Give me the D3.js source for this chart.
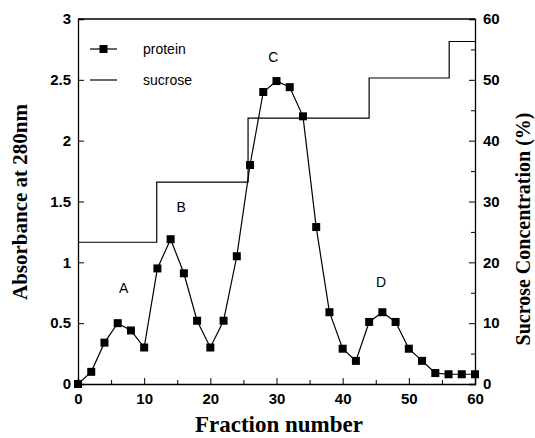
<!DOCTYPE html>
<html>
<head>
<meta charset="utf-8">
<script src="https://cdn.jsdelivr.net/npm/d3@7"></script>
<style>
  body { margin: 0; background: #fff; }
</style>
</head>
<body>
<svg id="chart" width="535" height="438"></svg>
<script>
// fraction numbers and absorbance at 280nm
const fractions = [0, 2, 4, 6, 8, 10, 12, 14, 16, 18, 20, 22, 24, 26, 28, 30, 32, 34, 36, 38, 40, 42, 44, 46, 48, 50, 52, 54, 56, 58, 60];
const protein = [0, 0.1, 0.34, 0.5, 0.44, 0.3, 0.95, 1.19, 0.91, 0.52, 0.3, 0.52, 1.05, 1.8, 2.4, 2.49, 2.44, 2.2, 1.29, 0.59, 0.29, 0.19, 0.51, 0.59, 0.51, 0.29, 0.19, 0.09, 0.08, 0.08, 0.08];

// sucrose gradient steps (start fraction of each step, and %)
const sucroseStarts = [0, 11.9, 25.7, 44, 56.1];
const sucroseLevels = [23.3, 33.2, 43.7, 50.3, 56.3];

// peak labels
const peakNames = ['A', 'B', 'C', 'D'];
const peakX = [6.9, 15.6, 29.5, 45.8];
const peakY = [0.79, 1.45, 2.69, 0.84];

const leftTicks = [0, 0.5, 1, 1.5, 2, 2.5, 3];
const rightTicks = [0, 10, 20, 30, 40, 50, 60];
const xTicks = [0, 10, 20, 30, 40, 50, 60];

const sans = '"Liberation Sans", Arial, sans-serif';
const serif = '"Liberation Serif", "Times New Roman", serif';

const svg = d3.select('#chart');
const margin = { top: 19, right: 60, bottom: 54, left: 78 };
const width = +svg.attr('width') - margin.left - margin.right;
const height = +svg.attr('height') - margin.top - margin.bottom;
const g = svg.append('g').attr('transform', `translate(${margin.left},${margin.top})`);

const x = d3.scaleLinear().domain([0, 60]).range([0, width]);
const y = d3.scaleLinear().domain([0, 3]).range([height, 0]);
const y2 = d3.scaleLinear().domain([0, 60]).range([height, 0]);

// minor ticks
g.append('g')
  .attr('transform', `translate(0,${height})`)
  .call(d3.axisBottom(x).tickValues([5, 15, 25, 35, 45, 55]).tickSize(-4).tickFormat(''))
  .select('.domain').remove();
g.append('g')
  .attr('transform', `translate(${width},0)`)
  .call(d3.axisRight(y2).tickValues([5, 15, 25, 35, 45, 55]).tickSize(-4).tickFormat(''))
  .select('.domain').remove();

// major axes
g.append('g')
  .attr('class', 'axis')
  .attr('transform', `translate(0,${height})`)
  .call(d3.axisBottom(x).tickValues(xTicks).tickSize(-6).tickPadding(9).tickFormat(d3.format('d')));

g.append('g')
  .attr('class', 'axis')
  .call(d3.axisLeft(y).tickValues(leftTicks).tickSize(-6).tickPadding(7).tickFormat(d => d));

g.append('g')
  .attr('class', 'axis')
  .attr('transform', `translate(${width},0)`)
  .call(d3.axisRight(y2).tickValues(rightTicks).tickSize(-6).tickPadding(8).tickFormat(d3.format('d')));

g.selectAll('.axis')
  .attr('font-family', sans)
  .attr('font-size', 15)
  .attr('font-weight', 'bold');
g.selectAll('.domain').attr('stroke', '#000').attr('stroke-width', 1.3);
g.selectAll('.tick line').attr('stroke', '#000');

// top frame line
g.append('line')
  .attr('x1', 0).attr('x2', width)
  .attr('y1', 0).attr('y2', 0)
  .attr('stroke', '#000')
  .attr('stroke-width', 1.3);

// sucrose step line
const stepData = sucroseStarts.map((s, i) => ({ x: s, v: sucroseLevels[i] }));
stepData.push({ x: 60, v: sucroseLevels[sucroseLevels.length - 1] });
g.append('path')
  .datum(stepData)
  .attr('fill', 'none')
  .attr('stroke', '#000')
  .attr('stroke-width', 1.2)
  .attr('d', d3.line().curve(d3.curveStepAfter).x(d => x(d.x)).y(d => y2(d.v)));

// protein line and markers
const data = fractions.map((f, i) => ({ f, v: protein[i] }));
g.append('path')
  .datum(data)
  .attr('fill', 'none')
  .attr('stroke', '#000')
  .attr('stroke-width', 1.2)
  .attr('d', d3.line().x(d => x(d.f)).y(d => y(d.v)));

g.selectAll('.pt')
  .data(data)
  .enter().append('rect')
  .attr('class', 'pt')
  .attr('x', d => x(d.f) - 4)
  .attr('y', d => y(d.v) - 4)
  .attr('width', 8)
  .attr('height', 8)
  .attr('fill', '#000');

// peak labels
g.selectAll('.peak')
  .data(peakNames)
  .enter().append('text')
  .attr('class', 'peak')
  .attr('x', (d, i) => x(peakX[i]))
  .attr('y', (d, i) => y(peakY[i]))
  .attr('dy', '0.35em')
  .attr('text-anchor', 'middle')
  .attr('font-family', sans)
  .attr('font-size', 14)
  .text(d => d);

// legend
const legend = g.append('g').attr('transform', 'translate(12,30)');
legend.append('line').attr('x1', 0).attr('x2', 27).attr('y1', 0).attr('y2', 0).attr('stroke', '#000').attr('stroke-width', 1.2);
legend.append('rect').attr('x', 9.5).attr('y', -4).attr('width', 8).attr('height', 8).attr('fill', '#000');
legend.append('text').attr('x', 53).attr('y', 0).attr('dy', '0.35em')
  .attr('font-family', sans).attr('font-size', 14).text('protein');
legend.append('line').attr('x1', 0).attr('x2', 27).attr('y1', 31).attr('y2', 31).attr('stroke', '#000').attr('stroke-width', 1.2);
legend.append('text').attr('x', 53).attr('y', 31).attr('dy', '0.35em')
  .attr('font-family', sans).attr('font-size', 14).text('sucrose');

// axis titles
svg.append('text')
  .attr('x', 279)
  .attr('y', 432)
  .attr('text-anchor', 'middle')
  .attr('font-family', serif)
  .attr('font-weight', 'bold')
  .attr('font-size', 23)
  .text('Fraction number');

svg.append('text')
  .attr('transform', 'translate(27,202) rotate(-90)')
  .attr('text-anchor', 'middle')
  .attr('font-family', serif)
  .attr('font-weight', 'bold')
  .attr('font-size', 21)
  .text('Absorbance at 280nm');

svg.append('text')
  .attr('transform', 'translate(530,229) rotate(-90)')
  .attr('text-anchor', 'middle')
  .attr('font-family', serif)
  .attr('font-weight', 'bold')
  .attr('font-size', 20)
  .text('Sucrose Concentration (%)');
</script>
</body>
</html>
